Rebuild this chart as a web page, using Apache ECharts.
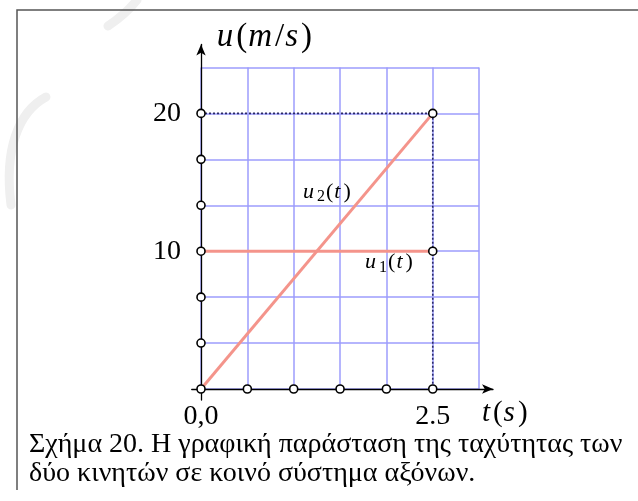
<!DOCTYPE html>
<html><head><meta charset="utf-8">
<script src="https://cdn.jsdelivr.net/npm/echarts@6/dist/echarts.min.js"></script>
<style>html,body{margin:0;padding:0;background:#fff}#c{width:638px;height:501px}</style>
</head><body><div id="c"></div>
<script>
// Time samples (s) and velocities (m/s) of the two bodies
const tSamples = [0, 2.5];
const u1Values = [10, 10];
const u2Values = [0, 20];

// Axis tick labels
const tTickValues = [0, 2.5];
const tTickLabels = ['0,0', '2.5'];
const uTickValues = [10, 20];
const uTickLabels = ['10', '20'];

// Open-circle marks along the axes
const tMarks = [0, 0.5, 1, 1.5, 2, 2.5];
const uMarks = [3.333, 6.667, 10, 13.333, 16.667, 20];
const endMarks = [[2.5, 20], [2.5, 10]];

// Dotted guide to the end point
const guideT = [0, 2.5, 2.5];
const guideU = [20, 20, 0];

// Plot box and arrowed-axis extents (data units)
const tBox = [0, 3], tStep = 0.5;
const uBox = [0, 70 / 3], uStep = 10 / 3;
const tAxisExtent = [-0.1, 3.15];
const uAxisExtent = [-0.8, 25];

// Pixel layout: origin and pixels per unit
const W = 638, H = 501;
const X0 = 201, Y0 = 389, KX = 92.7, KY = 13.78;
const gridFor = (tx, uy) => ({
  left: X0 + tx[0] * KX, right: W - (X0 + tx[1] * KX),
  top: Y0 - uy[1] * KY, bottom: H - (Y0 - uy[0] * KY)
});

const SERIF = '"Liberation Serif", "DejaVu Serif", serif';
const RED = '#f4948b';
const GRID_BLUE = '#9d9dfc';

const chart = echarts.init(document.getElementById('c'), null, {renderer: 'canvas'});

const marks = [];
tMarks.forEach(t => marks.push([t, 0]));
uMarks.forEach(u => marks.push([0, u]));
endMarks.forEach(p => marks.push(p));

const hidden = {show: false};
chart.setOption({
  animation: false,
  grid: [
    Object.assign({containLabel: false}, gridFor(tBox, uBox)),
    Object.assign({containLabel: false}, gridFor(tAxisExtent, uAxisExtent))
  ],
  xAxis: [
    {
      gridIndex: 0, type: 'value', min: tBox[0], max: tBox[1], interval: tStep,
      axisLine: hidden, axisTick: hidden,
      splitLine: {show: true, lineStyle: {color: GRID_BLUE, width: 1.5}},
      axisLabel: {customValues: tTickValues,
        formatter: v => tTickLabels[tTickValues.indexOf(v)],
        margin: 14, fontFamily: SERIF, fontSize: 28, color: '#000'}
    },
    {
      gridIndex: 1, type: 'value', min: tAxisExtent[0], max: tAxisExtent[1],
      axisLine: {onZero: true, symbol: ['none', 'arrow'], symbolSize: [7, 11],
        lineStyle: {color: '#000', width: 1.3}},
      axisTick: hidden, splitLine: hidden, axisLabel: hidden
    }
  ],
  yAxis: [
    {
      gridIndex: 0, type: 'value', min: uBox[0], max: uBox[1], interval: uStep,
      axisLine: hidden, axisTick: hidden,
      splitLine: {show: true, lineStyle: {color: GRID_BLUE, width: 1.5}},
      axisLabel: {customValues: uTickValues,
        formatter: v => uTickLabels[uTickValues.indexOf(v)],
        margin: 20, fontFamily: SERIF, fontSize: 28, color: '#000'}
    },
    {
      gridIndex: 1, type: 'value', min: uAxisExtent[0], max: uAxisExtent[1],
      axisLine: {onZero: true, symbol: ['none', 'arrow'], symbolSize: [7, 11],
        lineStyle: {color: '#000', width: 1.3}},
      axisTick: hidden, splitLine: hidden, axisLabel: hidden
    }
  ],
  series: [
    {
      name: 'u1', type: 'line', z: 3, showSymbol: false,
      data: tSamples.map((t, i) => [t, u1Values[i]]),
      lineStyle: {color: RED, width: 3}
    },
    {
      name: 'u2', type: 'line', z: 3, showSymbol: false,
      data: tSamples.map((t, i) => [t, u2Values[i]]),
      lineStyle: {color: RED, width: 3}
    },
    {
      name: 'guide', type: 'line', z: 4, showSymbol: false,
      data: guideT.map((t, i) => [t, guideU[i]]),
      lineStyle: {color: '#2a2a66', width: 1.6, type: [2, 2]}
    },
    {
      name: 'marks', type: 'scatter', z: 6, symbol: 'circle', symbolSize: 8,
      data: marks,
      itemStyle: {color: '#fff', borderColor: '#000', borderWidth: 1.6, opacity: 1}
    }
  ]
});

// Math-style labels placed by data coordinates
const px = p => chart.convertToPixel({gridIndex: 0}, p);
const richMath = size => ({
  i: {fontFamily: SERIF, fontStyle: 'italic', fontSize: size, color: '#000', padding: [0, 3, 0, 0]},
  r: {fontFamily: SERIF, fontSize: size, color: '#000', padding: [0, 1, 0, 0]},
  s: {fontFamily: SERIF, fontSize: Math.round(size * 0.72), color: '#000', verticalAlign: 'bottom', padding: [0, 1, 0, 0]}
});
const label = (p, text, size) => {
  const q = px(p);
  return {type: 'text', x: q[0], y: q[1], z: 20,
    style: {text: text, rich: richMath(size), verticalAlign: 'middle', align: 'left', lineHeight: size * 1.2}};
};

const caption = [
  'Σχήμα 20. Η γραφική παράσταση της ταχύτητας των',
  'δύο κινητών σε κοινό σύστημα αξόνων.'
];

chart.setOption({
  graphic: [
    // faint background watermark strokes
    {type: 'bezierCurve', z: -1,
      shape: {x1: 137, y1: 0, x2: 108, y2: 26, cpx1: 126, cpy1: 14},
      style: {fill: 'none', stroke: '#efefef', lineWidth: 9, lineCap: 'round'}},
    {type: 'bezierCurve', z: -1,
      shape: {x1: 46, y1: 97, x2: 11, y2: 205, cpx1: 18, cpy1: 112, cpx2: 4, cpy2: 150},
      style: {fill: 'none', stroke: '#efefef', lineWidth: 9, lineCap: 'round'}},
    // frame around the figure
    {type: 'polyline', z: 0, shape: {points: [[17, 490], [17, 10], [700, 10]]},
      style: {fill: 'none', stroke: '#555', lineWidth: 1.5}},
    label([0.17, 25.55], '{i|u}{r|(}{i|m}{r|/}{i|s}{r|)}', 33),
    label([3.03, -1.75], '{i|t}{r|(}{i|s}{r|)}', 29),
    label([1.10, 14.3], '{i|u}{s|2}{r|(}{i|t}{r|)}', 22),
    label([1.77, 9.2], '{i|u}{s|1}{r|(}{i|t}{r|)}', 22),
    {type: 'text', x: 29, y: 445, z: 20,
      style: {text: caption[0], fontFamily: SERIF, fontSize: 28, fill: '#000', verticalAlign: 'middle'}},
    {type: 'text', x: 29, y: 474, z: 20,
      style: {text: caption[1], fontFamily: SERIF, fontSize: 28, fill: '#000', verticalAlign: 'middle'}}
  ]
});
</script>
</body></html>
